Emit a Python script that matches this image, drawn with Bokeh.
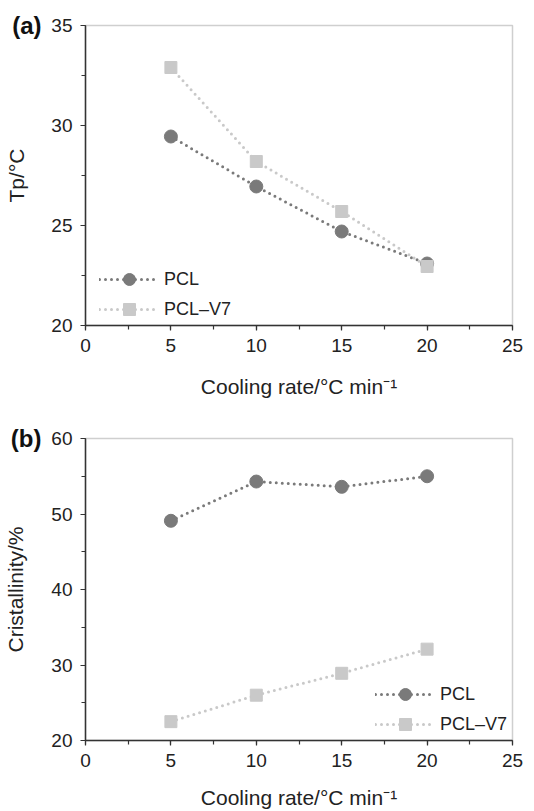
from bokeh.plotting import figure
from bokeh.layouts import column
from bokeh.models import (Range1d, Legend, LegendItem, LinearAxis, FixedTicker,
                          SingleIntervalTicker)
from bokeh.embed import file_html
from bokeh.resources import INLINE

# ---- data ----
cooling_rate = [5, 10, 15, 20]
tp_pcl = [29.45, 26.95, 24.7, 23.1]
tp_pcl_v7 = [32.9, 28.2, 25.7, 22.95]
cryst_pcl = [49.1, 54.3, 53.6, 55.0]
cryst_pcl_v7 = [22.5, 26.0, 28.9, 32.1]
series_names = ["PCL", "PCL\u2013V7"]
x_label = "Cooling rate/\u00b0C min\u207b\u00b9"

FONT = "Liberation Sans"
C_PCL = "#7a7a7a"
C_V7 = "#c9c9c9"


def make_panel(y_pcl, y_v7, y0, y1, y_step, ylabel, tag, h, top, bottom,
               leg_loc, xlab_standoff):
    p = figure(width=534, height=h, output_backend="svg", toolbar_location=None,
               x_range=Range1d(0, 25), y_range=Range1d(y0, y1),
               min_border_left=85, min_border_right=22,
               min_border_top=top, min_border_bottom=bottom)
    p.grid.visible = False
    p.outline_line_color = "#cfcfcf"
    p.outline_line_width = 1.5
    p.background_fill_color = "white"
    p.border_fill_color = "white"

    p.xaxis.ticker = SingleIntervalTicker(interval=5, num_minor_ticks=2)
    p.yaxis.ticker = SingleIntervalTicker(interval=y_step, num_minor_ticks=2)
    for ax in (p.xaxis, p.yaxis):
        ax.axis_line_color = "#333333"
        ax.axis_line_width = 1.5
        ax.major_tick_line_color = "#333333"
        ax.minor_tick_line_color = "#333333"
        ax.major_tick_line_width = 1.2
        ax.minor_tick_line_width = 1.2
        ax.major_tick_in = 0
        ax.major_tick_out = 5
        ax.minor_tick_in = 0
        ax.minor_tick_out = 4
        ax.major_label_text_font = FONT
        ax.major_label_text_font_size = "19px"
        ax.major_label_text_color = "#222222"
        ax.axis_label_text_font = FONT
        ax.axis_label_text_font_size = "21px"
        ax.axis_label_text_font_style = "normal"
        ax.axis_label_text_color = "#222222"
        ax.major_label_standoff = 8
    p.xaxis.axis_label = x_label
    p.xaxis.axis_label_standoff = xlab_standoff

    # outer left axis: carries the panel tag at the top and the y-axis title
    tag_axis = LinearAxis(ticker=FixedTicker(ticks=[y1], minor_ticks=[]),
                          major_label_overrides={y1: tag})
    tag_axis.axis_line_color = None
    tag_axis.major_tick_line_color = None
    tag_axis.minor_tick_line_color = None
    tag_axis.major_tick_in = 0
    tag_axis.major_tick_out = 0
    tag_axis.major_label_standoff = 7
    tag_axis.major_label_text_font = FONT
    tag_axis.major_label_text_font_size = "24px"
    tag_axis.major_label_text_font_style = "bold"
    tag_axis.major_label_text_color = "#111111"
    tag_axis.axis_label = ylabel
    tag_axis.axis_label_standoff = -19
    tag_axis.axis_label_text_font = FONT
    tag_axis.axis_label_text_font_size = "21px"
    tag_axis.axis_label_text_font_style = "normal"
    tag_axis.axis_label_text_color = "#222222"
    p.add_layout(tag_axis, "left")

    l1 = p.line(cooling_rate, y_pcl, line_color=C_PCL, line_width=3,
                line_dash="0 6", line_cap="round")
    m1 = p.scatter(cooling_rate, y_pcl, marker="circle", size=13,
                   fill_color=C_PCL, line_color=C_PCL)
    l2 = p.line(cooling_rate, y_v7, line_color=C_V7, line_width=3,
                line_dash="0 6", line_cap="round")
    m2 = p.scatter(cooling_rate, y_v7, marker="square", size=12,
                   fill_color=C_V7, line_color=C_V7)

    legend = Legend(items=[LegendItem(label=series_names[0], renderers=[l1, m1]),
                           LegendItem(label=series_names[1], renderers=[l2, m2])],
                    location=leg_loc, border_line_color=None,
                    background_fill_alpha=0, padding=0, margin=0,
                    spacing=-1, glyph_width=60, glyph_height=30,
                    label_height=20, label_standoff=5,
                    label_text_font=FONT, label_text_font_size="18px",
                    label_text_color="#222222")
    p.add_layout(legend)
    return p


pa = make_panel(tp_pcl, tp_pcl_v7, 20, 35, 5, "Tp/\u00b0C", "(a)", 400, 25, 73,
                (14, 1), 20)
pb = make_panel(cryst_pcl, cryst_pcl_v7, 20, 60, 10, "Cristallinity/%", "(b)", 411,
                38, 70, (290, 1), 16)

layout = column(pa, pb, spacing=0)
open("out.html", "w").write(file_html(layout, INLINE))
